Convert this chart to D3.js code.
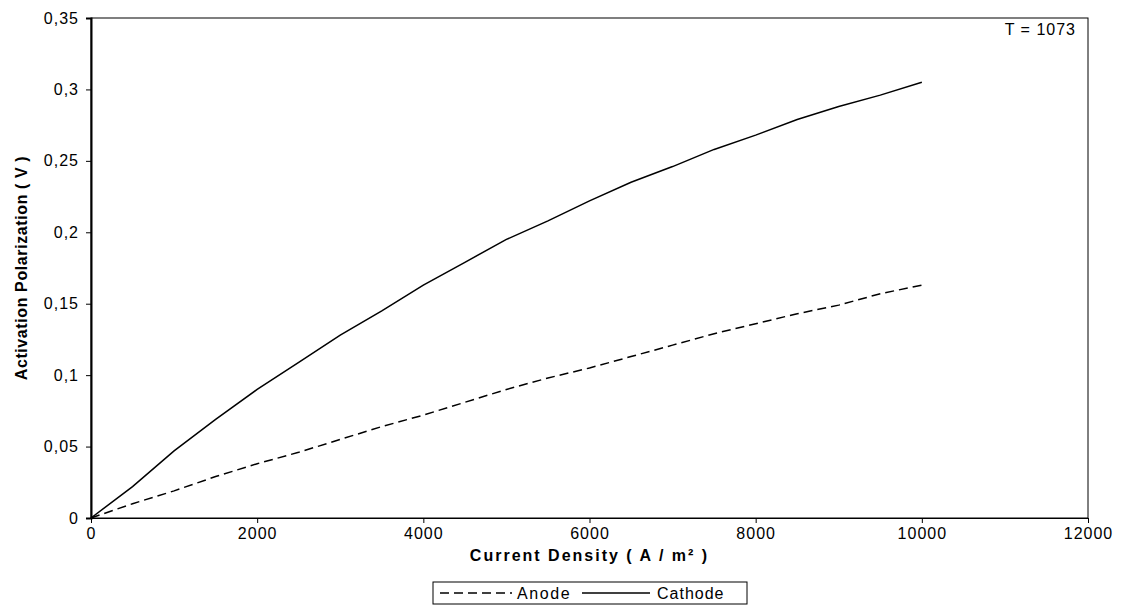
<!DOCTYPE html>
<html>
<head>
<meta charset="utf-8">
<script src="https://cdn.jsdelivr.net/npm/d3@7"></script>
<style>
  body { margin: 0; background: #fff; }
  text { font-family: "Liberation Sans", Arial, sans-serif; }
</style>
</head>
<body>
<svg id="chart" width="1122" height="613"></svg>
<script>
// current density (A/m2)
const density = [0, 500, 1000, 1500, 2000, 2500, 3000, 3500, 4000, 4500, 5000,
                 5500, 6000, 6500, 7000, 7500, 8000, 8500, 9000, 9500, 10000];
// activation polarization (V)
const anode = [0, 0.010, 0.019, 0.029, 0.038, 0.046, 0.055, 0.064, 0.072, 0.081, 0.090,
               0.098, 0.105, 0.113, 0.121, 0.129, 0.136, 0.143, 0.149, 0.157, 0.163];
const cathode = [0, 0.022, 0.047, 0.069, 0.090, 0.109, 0.128, 0.145, 0.163, 0.179, 0.195,
                 0.208, 0.222, 0.235, 0.246, 0.258, 0.268, 0.279, 0.288, 0.296, 0.305];
const xTicks = [0, 2000, 4000, 6000, 8000, 10000, 12000];
const yTicks = [0, 0.05, 0.1, 0.15, 0.2, 0.25, 0.3, 0.35];

const margin = { top: 18, right: 34, bottom: 95, left: 91 };
const width = 1122 - margin.left - margin.right,
      height = 613 - margin.top - margin.bottom;

const svg = d3.select("#chart");
const g = svg.append("g").attr("transform", `translate(${margin.left},${margin.top})`);

let x = d3.scaleLinear().domain([0, 12000]).range([0, width]);
let y = d3.scaleLinear().domain([0, 0.35]).range([height, 0]);

// plot area frame
g.append("rect")
    .attr("width", width).attr("height", height)
    .attr("fill", "none").attr("stroke", "#000").attr("stroke-width", 1);

const comma = v => d3.format("")(+v.toFixed(2)).replace(".", ",");

const xAxis = g.append("g")
    .attr("transform", `translate(0,${height})`)
    .call(d3.axisBottom(x).tickValues(xTicks).tickSize(5).tickPadding(5).tickFormat(d3.format("")));
const yAxis = g.append("g")
    .call(d3.axisLeft(y).tickValues(yTicks).tickSize(5).tickPadding(7).tickFormat(comma));

[xAxis, yAxis].forEach(a => {
    a.select(".domain").attr("stroke", "#000");
    a.selectAll(".tick line").attr("stroke", "#000");
    a.selectAll(".tick text").attr("font-size", "16px").attr("fill", "#000")
        .attr("letter-spacing", "1px")
        .style("font-family", "'Liberation Sans', Arial, sans-serif");
});
yAxis.select(".domain").attr("stroke-width", 2);

const line = d3.line()
    .x((d, i) => x(density[i]))
    .y(d => y(d));

g.append("path").datum(anode)
    .attr("d", line)
    .attr("fill", "none").attr("stroke", "#000").attr("stroke-width", 1.5)
    .attr("stroke-dasharray", "9,5");

g.append("path").datum(cathode)
    .attr("d", line)
    .attr("fill", "none").attr("stroke", "#000").attr("stroke-width", 1.5);

g.append("text")
    .attr("x", width - 12).attr("y", 17)
    .attr("text-anchor", "end").attr("font-size", "16px")
    .attr("letter-spacing", "1px")
    .text("T = 1073");

// Labels
svg.append("text")
    .text("Current Density ( A / m² )")
    .attr("x", margin.left + width / 2)
    .attr("y", margin.top + height + 43)
    .attr("text-anchor", "middle")
    .attr("font-size", "16px").attr("font-weight", "bold")
    .attr("letter-spacing", "2px");

svg.append("text")
    .text("Activation Polarization ( V )")
    .attr("transform", `translate(27,${margin.top + height / 2}) rotate(-90)`)
    .attr("text-anchor", "middle")
    .attr("font-size", "16px").attr("font-weight", "bold")
    .attr("letter-spacing", "0.6px");

// legend
const lg = svg.append("g").attr("transform", "translate(433,582)");
lg.append("rect").attr("width", 314).attr("height", 22)
    .attr("fill", "#fff").attr("stroke", "#000").attr("stroke-width", 1);
const entries = [
    { name: "Anode", dash: "9,5", x0: 7, x1: 79, tx: 84 },
    { name: "Cathode", dash: null, x0: 149, x1: 217, tx: 224 }
];
entries.forEach(e => {
    lg.append("line").attr("x1", e.x0).attr("x2", e.x1).attr("y1", 11).attr("y2", 11)
        .attr("stroke", "#000").attr("stroke-width", 1.5)
        .attr("stroke-dasharray", e.dash);
    lg.append("text").attr("x", e.tx).attr("y", 17).attr("font-size", "16px")
        .attr("letter-spacing", e.name == "Anode" ? "1.6px" : "1px")
        .text(e.name);
});
</script>
</body>
</html>
